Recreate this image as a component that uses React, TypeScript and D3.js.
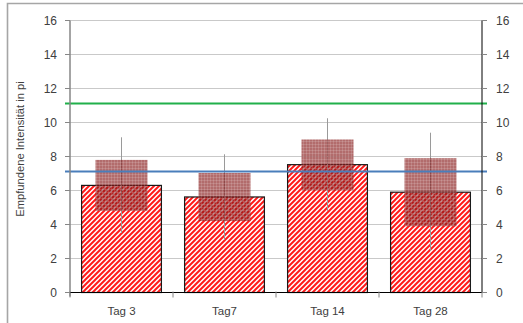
import React from "react";
import * as d3 from "d3";

const categories = ["Tag 3", "Tag7", "Tag 14", "Tag 28"];
const means = [6.3, 5.62, 7.52, 5.9];
const boxLow = [4.8, 4.2, 6.0, 3.9];
const boxHigh = [7.8, 7.03, 9.0, 7.9];
const whiskerLow = [3.5, 3.1, 4.8, 2.45];
const whiskerHigh = [9.13, 8.13, 10.25, 9.4];
const yTicks = [0, 2, 4, 6, 8, 10, 12, 14, 16];
const greenLine = 11.12;
const blueLine = 7.12;
const yTitle = "Empfundene Intensität in pi";

const W = 523;
const H = 323;
const left = 70;
const right = 482;
const top = 20.5;
const bottom = 292.5;

export default function App() {
  const x = d3.scaleBand<string>().domain(categories).range([left, right]).padding(0);
  const y = d3.scaleLinear().domain([0, 16]).range([bottom, top]);
  const bw = x.bandwidth();
  const barW = bw * 0.775;
  const boxW = bw * 0.505;
  const font = "'Liberation Sans', Arial, sans-serif";
  const textCol = "#404040";

  return (
    <svg width={W} height={H} style={{ position: "absolute", left: 0, top: 0 }}>
      <defs>
        <pattern id="stripes" patternUnits="userSpaceOnUse" width="5" height="5">
          <rect width="5" height="5" fill="#ffffff" />
          <path d="M-1,1 l2,-2 M0,5 l5,-5 M4,6 l2,-2" stroke="#ff1a1a" strokeWidth="2" />
        </pattern>
        <pattern id="grid" patternUnits="userSpaceOnUse" width="3" height="3">
          <rect width="3" height="3" fill="rgba(135,25,25,0.64)" />
          <path d="M0,0.5 H3 M0.5,0 V3" stroke="rgba(255,255,255,0.14)" strokeWidth="1" />
        </pattern>
      </defs>
      <rect x={0} y={0} width={W} height={H} fill="#ffffff" />
      {/* frame */}
      <path d={`M7.5,${H} V3.5 H${W}`} fill="none" stroke="#a6a6a6" strokeWidth={1.6} />

      {/* gridlines */}
      {yTicks.map((t) => (
        <line key={"g" + t} x1={left} x2={right} y1={y(t)} y2={y(t)} stroke="#c9c9c9" strokeWidth={1} />
      ))}

      {/* bars */}
      {categories.map((c, i) => {
        const cx = (x(c) as number) + bw / 2;
        return (
          <rect
            key={"b" + c}
            x={cx - barW / 2}
            y={y(means[i])}
            width={barW}
            height={y(0) - y(means[i])}
            fill="url(#stripes)"
            stroke="#1a1a1a"
            strokeWidth={1.2}
          />
        );
      })}

      {/* whiskers */}
      {categories.map((c, i) => {
        const cx = (x(c) as number) + bw / 2;
        return (
          <line
            key={"w" + c}
            x1={cx}
            x2={cx}
            y1={y(whiskerLow[i])}
            y2={y(whiskerHigh[i])}
            stroke="#9a9a9a"
            strokeWidth={1}
          />
        );
      })}

      {/* boxes */}
      {categories.map((c, i) => {
        const cx = (x(c) as number) + bw / 2;
        return (
          <rect
            key={"x" + c}
            x={cx - boxW / 2}
            y={y(boxHigh[i])}
            width={boxW}
            height={y(boxLow[i]) - y(boxHigh[i])}
            fill="url(#grid)"
          />
        );
      })}

      {/* reference lines */}
      <line x1={65} x2={487} y1={y(greenLine)} y2={y(greenLine)} stroke="#21b04b" strokeWidth={2} />
      <line x1={65} x2={487} y1={y(blueLine)} y2={y(blueLine)} stroke="#4a7ebb" strokeWidth={2} />

      {/* left axis */}
      <line x1={left} x2={left} y1={top} y2={bottom + 4} stroke="#868686" strokeWidth={1.5} />
      {yTicks.map((t) => (
        <g key={"lt" + t}>
          <line x1={left - 5} x2={left} y1={y(t)} y2={y(t)} stroke="#868686" strokeWidth={1} />
          <text x={57} y={y(t)} dy="0.35em" textAnchor="end" fontSize={12} fontFamily={font} fill={textCol}>
            {t}
          </text>
        </g>
      ))}

      {/* right axis */}
      <line x1={right} x2={right} y1={top} y2={bottom} stroke="#000000" strokeWidth={1} />
      {yTicks.map((t) => (
        <g key={"rt" + t}>
          <line x1={right} x2={right + 5} y1={y(t)} y2={y(t)} stroke="#868686" strokeWidth={1} />
          <text x={496} y={y(t)} dy="0.35em" textAnchor="start" fontSize={12} fontFamily={font} fill={textCol}>
            {t}
          </text>
        </g>
      ))}

      {/* x axis */}
      <line x1={left} x2={right} y1={bottom} y2={bottom} stroke="#000000" strokeWidth={1.2} />
      {d3.range(categories.length + 1).map((k) => {
        const xx = left + k * bw;
        return <line key={"xt" + k} x1={xx} x2={xx} y1={bottom - 1} y2={bottom + 5} stroke="#868686" strokeWidth={1} />;
      })}
      {categories.map((c) => (
        <text
          key={"cl" + c}
          x={(x(c) as number) + bw / 2}
          y={315}
          textAnchor="middle"
          fontSize={11.5}
          fontFamily={font}
          fill={textCol}
        >
          {c}
        </text>
      ))}

      {/* y title */}
      <text
        transform={`translate(24,149) rotate(-90)`}
        textAnchor="middle"
        fontSize={11.2}
        fontFamily={font}
        fill={textCol}
      >
        {yTitle}
      </text>
    </svg>
  );
}
